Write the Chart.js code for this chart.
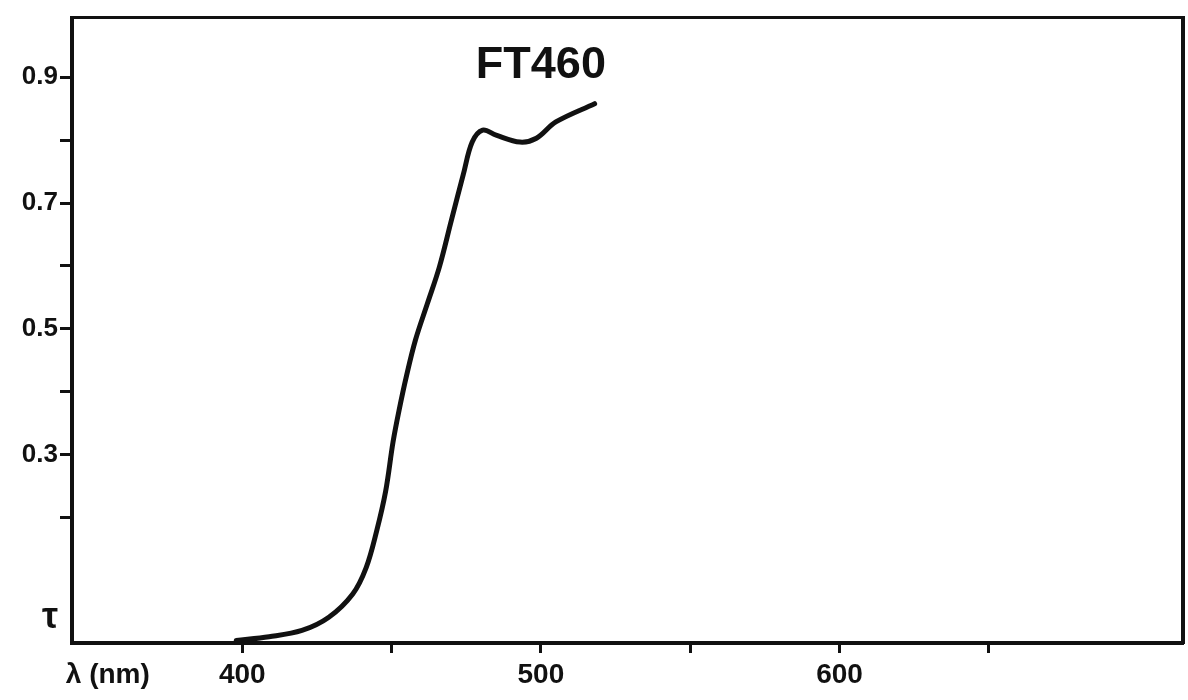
<!DOCTYPE html>
<html>
<head>
<meta charset="utf-8">
<script src="https://cdn.jsdelivr.net/npm/chart.js@4/dist/chart.umd.min.js"></script>
<style>
  html, body { margin: 0; padding: 0; background: #ffffff; }
  #wrap { width: 1188px; height: 700px; position: relative; }
</style>
</head>
<body>
<div id="wrap"><canvas id="c" width="1188" height="700"></canvas></div>
<script>
// ---- data ----
const wavelength = [398, 409, 420, 429, 437, 441.5, 445, 448, 450.5, 452.5, 455, 458, 462, 466, 470, 474, 477, 480.5, 485, 493, 498.5, 505, 518];
const transmittance = [0.004, 0.010, 0.020, 0.041, 0.078, 0.120, 0.178, 0.241, 0.320, 0.370, 0.425, 0.482, 0.540, 0.598, 0.672, 0.745, 0.797, 0.816, 0.808, 0.797, 0.803, 0.829, 0.858];

const xTicks = [355, 400, 450, 500, 550, 600, 650];
const xTickLabels = ['λ (nm)', '400', '', '500', '', '600', ''];
const yTicks = [0.04, 0.2, 0.3, 0.4, 0.5, 0.6, 0.7, 0.8, 0.9];
const yTickLabels = ['τ', '', '0.3', '', '0.5', '', '0.7', '', '0.9'];
const seriesName = 'FT460';
const seriesLabelAt = [500, 0.918];

const INK = '#111111';
const FONT = "'Liberation Sans', Arial, sans-serif";

const seriesLabelPlugin = {
  id: 'seriesLabel',
  afterDatasetsDraw(chart) {
    const {ctx, scales} = chart;
    const px = scales.x.getPixelForValue(seriesLabelAt[0]);
    const py = scales.y.getPixelForValue(seriesLabelAt[1]);
    ctx.save();
    ctx.fillStyle = INK;
    ctx.font = "bold 45px " + FONT;
    ctx.textAlign = 'center';
    ctx.textBaseline = 'middle';
    ctx.fillText(seriesName, px, py);
    ctx.restore();
  }
};

new Chart(document.getElementById('c'), {
  type: 'line',
  data: {
    datasets: [{
      label: seriesName,
      data: wavelength.map((w, i) => ({x: w, y: transmittance[i]})),
      borderColor: INK,
      borderWidth: 5,
      pointRadius: 0,
      fill: false,
      tension: 0.35,
      borderCapStyle: 'round',
      borderJoinStyle: 'round'
    }]
  },
  options: {
    responsive: false,
    animation: false,
    devicePixelRatio: 1,
    layout: { padding: { left: 0, right: 5, top: 11, bottom: 0 } },
    plugins: {
      legend: { display: false },
      tooltip: { enabled: false },
      title: { display: false }
    },
    scales: {
      x: {
        type: 'linear',
        position: 'bottom',
        min: 343,
        max: 715,
        afterBuildTicks: s => { s.ticks = xTicks.map(v => ({value: v})); },
        afterFit: s => { s.height = 57; },
        ticks: {
          autoSkip: false,
          maxRotation: 0,
          padding: 5,
          color: INK,
          font: { family: FONT, size: 28, weight: 'bold' },
          callback: (v, i) => xTickLabels[i]
        },
        grid: {
          drawOnChartArea: false,
          drawTicks: true,
          tickLength: 10,
          tickWidth: 3,
          tickColor: c => (c.index === 0 ? 'rgba(0,0,0,0)' : INK)
        },
        border: { display: true, color: INK, width: 4 }
      },
      x2: {
        type: 'linear',
        position: 'top',
        min: 343,
        max: 715,
        ticks: { display: false },
        grid: { display: false, drawTicks: false },
        afterFit: s => { s.height = 0; },
        border: { display: true, color: INK, width: 3 }
      },
      y: {
        type: 'linear',
        position: 'left',
        min: 0,
        max: 0.995,
        afterBuildTicks: s => { s.ticks = yTicks.map(v => ({value: v})); },
        afterFit: s => { s.width = 72; },
        ticks: {
          autoSkip: false,
          padding: 2,
          color: INK,
          font: c => ({ family: FONT, size: c.index === 0 ? 36 : 26, weight: 'bold' }),
          callback: (v, i) => yTickLabels[i]
        },
        grid: {
          drawOnChartArea: false,
          drawTicks: true,
          tickLength: 12,
          tickWidth: 3,
          tickColor: c => (c.index === 0 ? 'rgba(0,0,0,0)' : INK)
        },
        border: { display: true, color: INK, width: 4 }
      },
      y2: {
        type: 'linear',
        position: 'right',
        min: 0,
        max: 0.995,
        ticks: { display: false },
        grid: { display: false, drawTicks: false },
        afterFit: s => { s.width = 0; },
        border: { display: true, color: INK, width: 4 }
      }
    }
  },
  plugins: [seriesLabelPlugin]
});
</script>
</body>
</html>
